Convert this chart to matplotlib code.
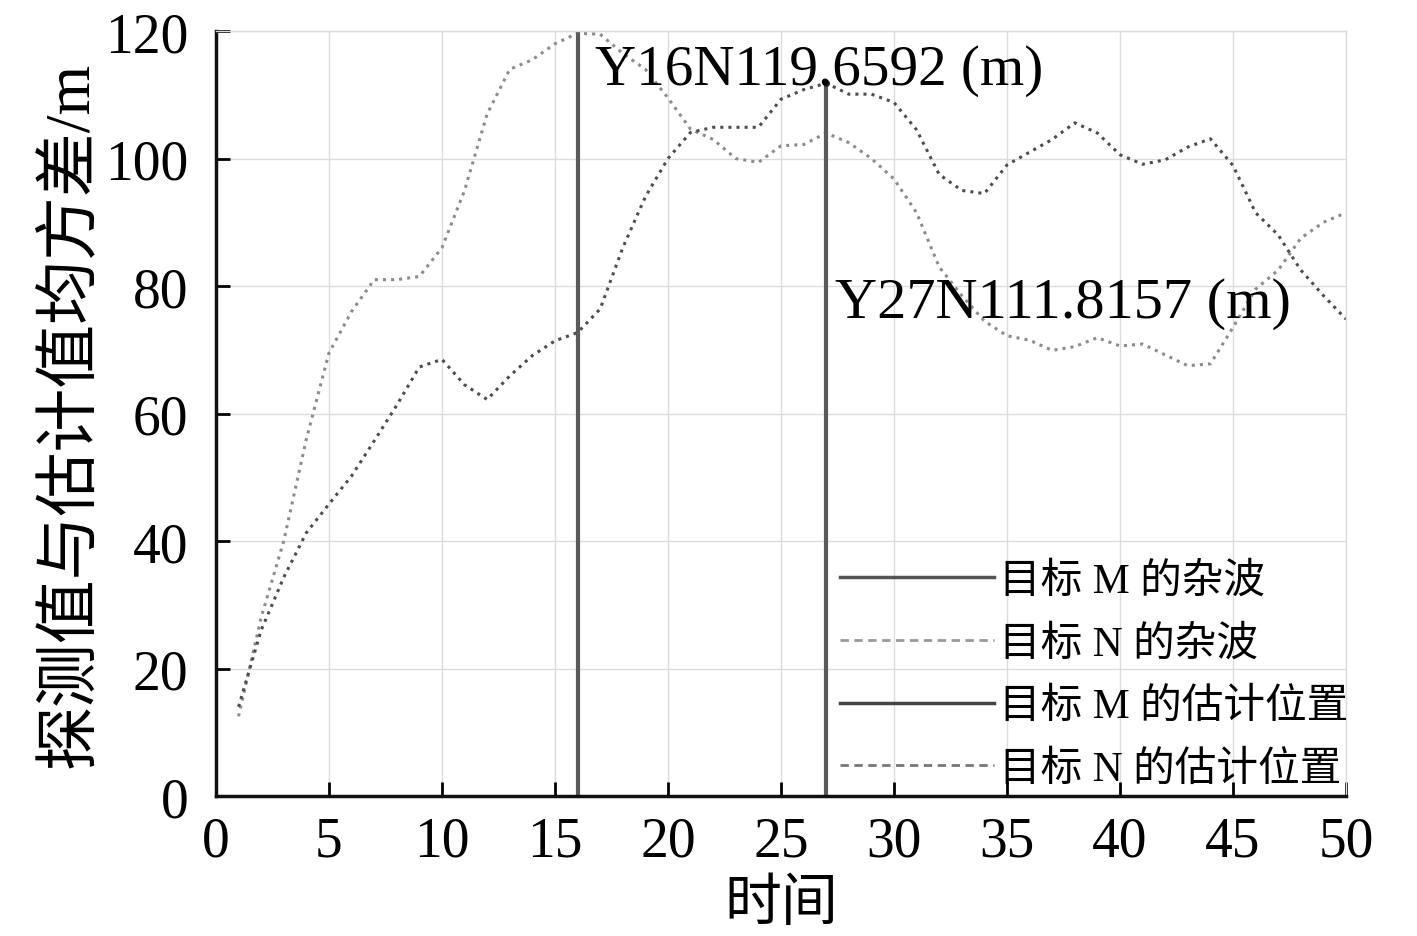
import matplotlib
matplotlib.use("Agg")
import matplotlib.pyplot as plt
from matplotlib.lines import Line2D

plt.rcParams['font.family'] = ['Liberation Serif', 'Noto Sans CJK SC', 'DejaVu Sans']

# time steps
t = list(range(1, 51))

# clutter curves
curve_n = [12.5, 28, 40, 56, 69.5, 76, 81, 81, 81.5, 86,
           95, 107, 114, 115.5, 118, 119.6592, 119.5, 116.5, 114, 109.5,
           104.6, 103, 100, 99.4, 102, 102.2, 104, 102.5, 100, 96.8,
           91.5, 83, 78.5, 74.5, 72.2, 71.5, 69.9, 70.5, 71.9, 70.6,
           70.9, 69.2, 67.5, 67.8, 73.5, 79.5, 82.5, 87.5, 90, 91.5]
curve_m = [14, 26, 34.3, 41.3, 45.8, 50.2, 55.7, 61.3, 67.3, 68.5,
           64.5, 62.2, 65.9, 69.1, 71.4, 72.7, 76.4, 86, 94, 100,
           104.1, 104.9, 104.9, 104.9, 109.3, 110.8, 111.8157, 110.1, 110.1, 108.8,
           104.5, 97.5, 95, 94.5, 99, 101, 103, 105.6, 104, 100.6,
           99.1, 99.8, 101.8, 103.1, 98.9, 91.5, 88, 82.5, 78.5, 74.8]

# estimated positions
est_x = [16, 27]
est_y = [119.6592, 111.8157]
est_text = ["Y16N119.6592 (m)", "Y27N111.8157 (m)"]

legend_labels = ["目标 M 的杂波", "目标 N 的杂波", "目标 M 的估计位置", "目标 N 的估计位置"]

fig = plt.figure(figsize=(14.17, 9.37), dpi=100)
ax = fig.add_axes([0.1524, 0.1494, 0.7975, 0.8164])

ax.plot(t, curve_n, ':', color='#8c8c8c', linewidth=2.2)
ax.plot(t, curve_m, ':', color='#4d4d4d', linewidth=2.2)

for xv, yv in zip(est_x, est_y):
    ax.plot([xv, xv], [0, yv], '-', color='#5a5a5a', linewidth=3)
ax.plot(est_x[1], est_y[1], 'o', color='#222222', markersize=4)

ax.text(16.75, 111.7, est_text[0], fontsize=41, va='baseline', ha='left')
ax.text(27.4, 75.1, est_text[1], fontsize=42, va='baseline', ha='left')

ax.set_xlim(0, 50)
ax.set_ylim(0, 120)
ax.set_xticks(range(0, 51, 5))
ax.set_yticks(range(0, 121, 20))
ax.grid(True, color='#dcdcdc', linewidth=1)
ax.tick_params(direction='in', length=10, width=2, labelsize=40, pad=14)
ax.tick_params(axis='y', pad=20)
for s in ['left', 'bottom']:
    ax.spines[s].set_linewidth(2.5)
    ax.spines[s].set_color('#111111')
for s in ['top', 'right']:
    ax.spines[s].set_color('#dcdcdc')
    ax.spines[s].set_linewidth(1)

ax.set_xlabel("时间", fontsize=41, labelpad=8)
ax.set_ylabel("探测值与估计值均方差/m", fontsize=46, labelpad=3)

handles = [Line2D([], [], color='#555555', linestyle='-', linewidth=2.5),
           Line2D([], [], color='#999999', linestyle=(0, (3, 2)), linewidth=2),
           Line2D([], [], color='#444444', linestyle='-', linewidth=2.5),
           Line2D([], [], color='#777777', linestyle=(0, (3, 2)), linewidth=2)]
ax.legend(handles, legend_labels, loc='lower right', bbox_to_anchor=(1.024, -0.0235),
          frameon=False, handlelength=3.7, handletextpad=0.12,
          labelspacing=0.58, borderaxespad=0.2,
          prop={'family': ['Liberation Serif', 'Noto Sans CJK SC'], 'size': 30})

fig.savefig("out.png", dpi=100)
